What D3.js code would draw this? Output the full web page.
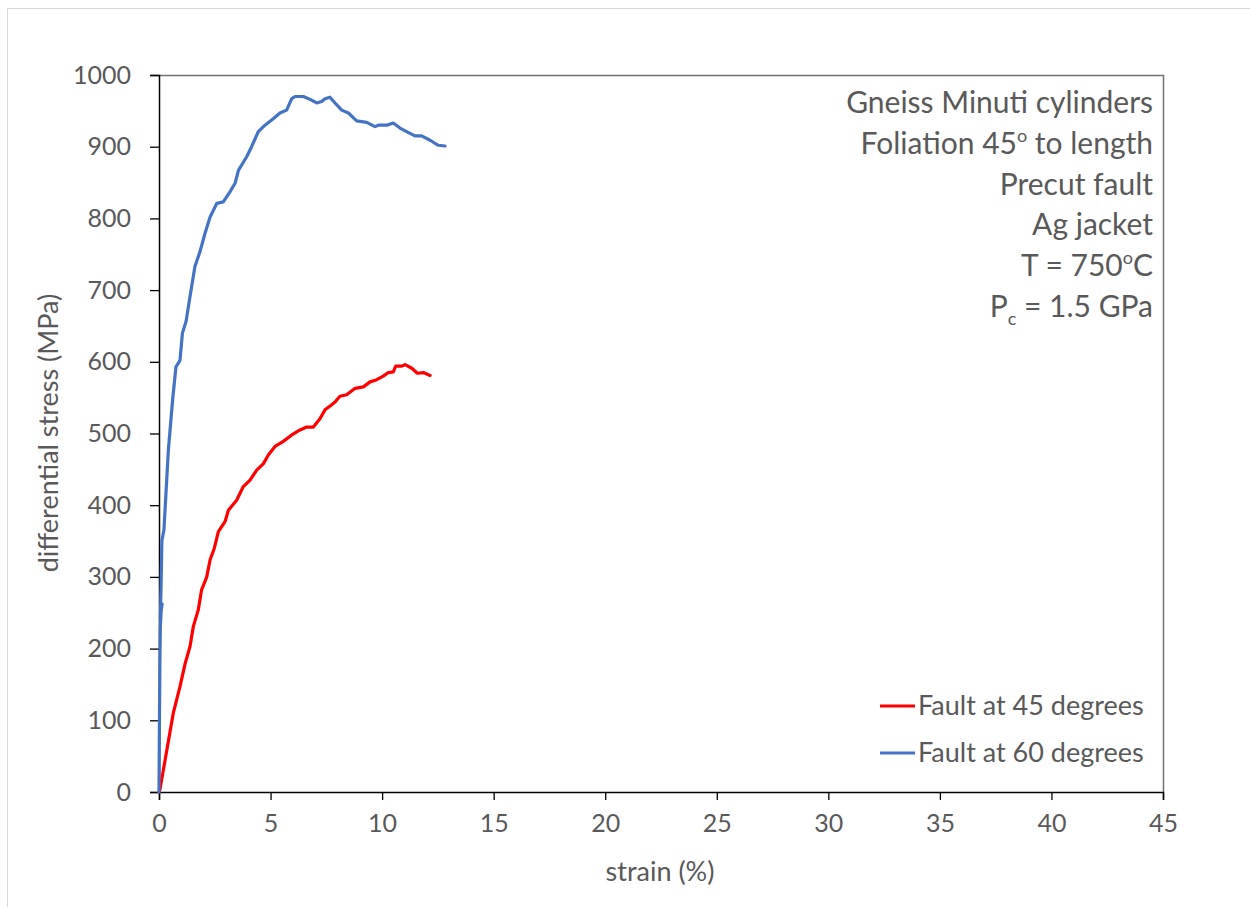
<!DOCTYPE html>
<html><head><meta charset="utf-8">
<script src="https://cdn.jsdelivr.net/npm/d3@7"></script>
<style>
body{margin:0;background:#fff;}
text{font-family:Lato,"Open Sans",sans-serif;fill:#595959;}
</style></head>
<body><svg id="c" width="1250" height="907"></svg>
<script>
const xTicks=[0,5,10,15,20,25,30,35,40,45];
const yTicks=[0,100,200,300,400,500,600,700,800,900,1000];
const seriesNames=["Fault at 45 degrees","Fault at 60 degrees"];
const seriesColors=["#ff0000","#4472c4"];
const red45Strain=[0,0.04,0.64,0.94,1.17,1.39,1.54,1.76,1.91,2.14,2.29,2.48,2.66,2.96,3.11,3.48,3.78,4.08,4.38,4.68,4.90,5.20,5.57,5.95,6.32,6.62,6.92,7.22,7.44,7.70,7.89,8.11,8.41,8.79,9.16,9.46,9.76,10.05,10.28,10.50,10.61,10.88,11.03,11.33,11.58,11.85,12.15];
const red45Stress=[0,3,110,147,179,203,231,254,282,300,324,340,363,377,393,407,426,435,449,458,470,482,489,498,505,509,509,521,533,539,544,552,554,563,565,572,575,580,585,586,594,594,596,591,584,585,581];
const blue60Strain=[0,0.02,0.04,0.06,0.10,0.14,0.08,0.06,0.10,0.13,0.22,0.42,0.61,0.76,0.94,1.05,1.21,1.39,1.61,1.84,2.06,2.29,2.59,2.88,3.18,3.41,3.56,3.93,4.15,4.45,4.75,5.12,5.42,5.72,5.95,6.10,6.47,6.77,7.07,7.29,7.44,7.66,7.89,8.19,8.49,8.86,9.31,9.68,9.83,10.21,10.50,10.80,11.10,11.47,11.77,12.15,12.52,12.82];
const blue60Stress=[0,100,180,230,255,262,250,240,300,351,365,477,547,593,602,640,656,691,733,754,779,802,821,823,837,849,867,886,900,921,930,939,947,951,967,970,970,966,961,963,967,969,961,951,947,936,934,928,930,930,933,926,921,915,915,909,902,901];
const annotation=[
  [["Gneiss Minuti cylinders",""]],
  [["Foliation 45",""],["o","sup"],[" to length",""]],
  [["Precut fault",""]],
  [["Ag jacket",""]],
  [["T = 750",""],["o","sup"],["C",""]],
  [["P",""],["c","sub"],[" = 1.5 GPa",""]]
];

const svg=d3.select("#c");
svg.append("rect").attr("x",7.5).attr("y",8.5).attr("width",1300).attr("height",1000)
  .attr("fill","none").attr("stroke","#d9d9d9").attr("stroke-width",1);

const L=159,R=1163,T=75,B=792;
const x=d3.scaleLinear().domain([0,45]).range([L,R]);
const y=d3.scaleLinear().domain([0,1000]).range([B,T]);

svg.append("path").attr("d",`M${L},${T+0.5}H${R+0.5}V${B}`).attr("fill","none").attr("stroke","#767171").attr("stroke-width",1.5);

const gx=svg.append("g").attr("transform",`translate(0,${B})`)
  .call(d3.axisBottom(x).tickValues(xTicks).tickSize(8).tickPadding(14).tickFormat(d3.format("d")));
const gy=svg.append("g").attr("transform",`translate(${L},0)`)
  .call(d3.axisLeft(y).tickValues(yTicks).tickSize(9).tickPadding(19).tickFormat(d3.format("d")));
[gx,gy].forEach(g=>{
  g.select(".domain").attr("stroke","#000").attr("stroke-width",1.5);
  g.selectAll(".tick line").attr("stroke","#000").attr("stroke-width",1.3);
  g.selectAll(".tick text").attr("font-size",25).attr("fill","#595959").attr("font-family","Lato,sans-serif");
});

svg.append("text").attr("x",660).attr("y",881).attr("text-anchor","middle").attr("font-size",27).text("strain (%)");
svg.append("text").attr("transform","translate(58,433) rotate(-90)").attr("text-anchor","middle").attr("font-size",27).text("differential stress (MPa)");

const line=d3.line().x(d=>x(d[0])).y(d=>y(d[1]));
const data=[d3.zip(red45Strain,red45Stress),d3.zip(blue60Strain,blue60Stress)];
data.forEach((d,i)=>{
  svg.append("path").datum(d).attr("d",line).attr("fill","none")
    .attr("stroke",seriesColors[i]).attr("stroke-width",3.2).attr("stroke-linejoin","round").attr("stroke-linecap","round");
});

seriesNames.forEach((n,i)=>{
  const ly=706+i*47;
  svg.append("line").attr("x1",880).attr("x2",915).attr("y1",ly).attr("y2",ly).attr("stroke",seriesColors[i]).attr("stroke-width",3);
  svg.append("text").attr("x",918).attr("y",ly+9).attr("font-size",27).text(n);
});

annotation.forEach((parts,i)=>{
  const t=svg.append("text").attr("x",1153).attr("y",113+i*40.8).attr("text-anchor","end").attr("font-size",30);
  parts.forEach(([s,k],j)=>{
    const ts=t.append("tspan").text(s);
    if(k==="sup"){ts.attr("font-size",18).attr("dy",-12);}
    else if(k==="sub"){ts.attr("font-size",18).attr("dy",8);}
    else if(j>0){const pk=parts[j-1][1]; ts.attr("dy",pk==="sup"?12:pk==="sub"?-8:0);}
  });
});
</script></body></html>
